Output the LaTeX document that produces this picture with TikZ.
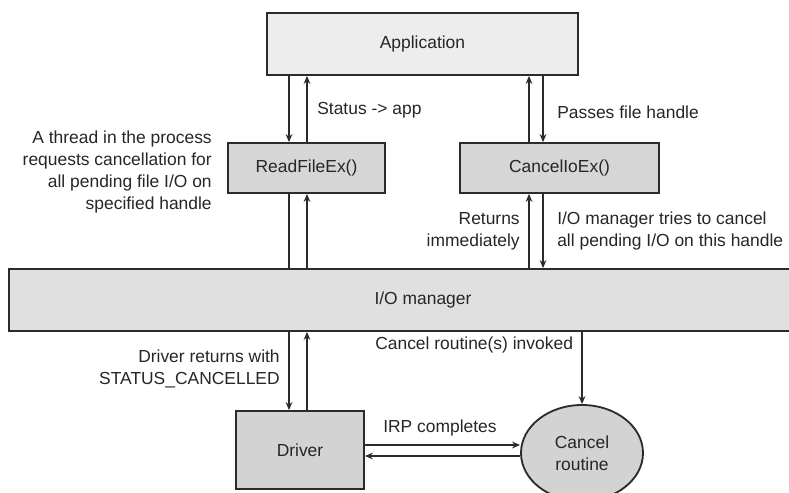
\documentclass[tikz,border=0pt]{standalone}
\usepackage{fontspec}
\setmainfont{Liberation Sans}
\usepackage{tikz}
\usetikzlibrary{shapes.geometric,arrows.meta,positioning}
\definecolor{appcol}{HTML}{EDEDED}
\definecolor{callcol}{HTML}{D6D6D6}
\definecolor{mgrcol}{HTML}{E0E0E1}
\definecolor{drvcol}{HTML}{D3D3D3}
\definecolor{edgecol}{HTML}{2B2B2B}

\begin{document}
\begin{tikzpicture}[
  x=0.025cm, y=-0.025cm,
  font=\fontsize{12.4}{15.6}\selectfont,
  pbox/.style={draw=edgecol, line width=1.3pt, inner sep=0pt, text=black!85},
  flow/.style={-{Stealth[length=2mm,width=1.7mm]}, line width=0.8pt, color=edgecol},
  plain/.style={line width=0.8pt, color=edgecol},
  lbl/.style={inner sep=0pt, text=black!85}
]
  \useasboundingbox (0,0) rectangle (789,493);
  \clip (0,0) rectangle (789,493);

  % Application
  \node[pbox, fill=appcol, minimum width=7.775cm, minimum height=1.55cm] (app) at (422.5,44) {Application};

  % calls
  \node[pbox, fill=callcol, minimum width=3.925cm, minimum height=1.25cm] (rfe) at (306.5,168) {ReadFileEx()};
  \node[pbox, fill=callcol, minimum width=4.975cm, minimum height=1.25cm] (cie) at (559.5,168) {CancelIoEx()};

  % I/O manager
  \node[pbox, fill=mgrcol, minimum width=20.7cm, minimum height=1.55cm] (iom) at (423,300) {I/O manager};

  % Driver, cancel routine
  \node[pbox, fill=drvcol, minimum width=3.2cm, minimum height=1.95cm] (drv) at (300,450) {Driver};
  \node[pbox, ellipse, fill=drvcol, align=center, minimum width=3.05cm, minimum height=2.4cm] (cr) at (582,453) {Cancel\\routine};

  % arrow lanes
  \coordinate (xa) at (289,0);
  \coordinate (xb) at (307,0);
  \coordinate (xc) at (529,0);
  \coordinate (xd) at (543,0);
  \coordinate (ya) at (0,445);
  \coordinate (yb) at (0,456);

  % arrows
  \draw[flow] (app.south -| xa) -- (rfe.north -| xa);
  \draw[flow] (rfe.north -| xb) -- (app.south -| xb);
  \draw[plain] (rfe.south -| xa) -- (iom.north -| xa);
  \draw[flow] (iom.north -| xb) -- (rfe.south -| xb);
  \draw[flow] (cie.north -| xc) -- (app.south -| xc);
  \draw[flow] (app.south -| xd) -- (cie.north -| xd);
  \draw[flow] (iom.north -| xc) -- (cie.south -| xc);
  \draw[flow] (cie.south -| xd) -- (iom.north -| xd);
  \draw[flow] (iom.south -| xa) -- (drv.north -| xa);
  \draw[flow] (drv.north -| xb) -- (iom.south -| xb);
  \draw[flow] (iom.south -| cr.north) -- (cr.north);
  \draw[flow] (drv.east |- ya) -- (cr.west |- ya);
  \draw[flow] (cr.west |- yb) -- (drv.east |- yb);

  % labels
  \node[lbl, anchor=west] (lstat) at (317,110) {Status -> app};
  \node[lbl, anchor=west] (lpass) at (557,112) {Passes file handle};
  \node[lbl, anchor=east, align=right] (lthr) at (212,172) {A thread in the process\\requests cancellation for\\all pending file I/O on\\specified handle};
  \node[lbl, anchor=east, align=right] (lret) at (520,231) {Returns\\immediately};
  \node[lbl, anchor=west, align=left] (ltry) at (557,231) {I/O manager tries to cancel\\all pending I/O on this handle};
  \node[lbl, anchor=east, align=right] (ldrv) at (280,369) {Driver returns with\\STATUS\_CANCELLED};
  \node[lbl, anchor=west] (linv) at (375,345) {Cancel routine(s) invoked};
  \node[lbl, anchor=west] (lirp) at (383,428) {IRP completes};
\end{tikzpicture}
\end{document}
